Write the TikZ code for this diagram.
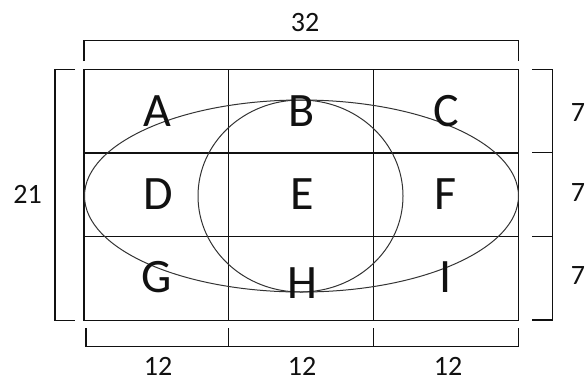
\documentclass[tikz,border=0pt]{standalone}
\usepackage{fontspec}
\setmainfont{Carlito}
\usepackage{tikz}
\usetikzlibrary{calc,positioning}
\definecolor{inkx}{HTML}{111111}
\definecolor{curvex}{HTML}{333333}
\tikzset{
  gridln/.style={line width=1.1pt,inkx},
  bracketln/.style={line width=1.1pt,inkx},
  curveln/.style={line width=1pt,curvex},
  cell/.style={font=\fontsize{48}{48}\selectfont,inner sep=0pt,text=inkx},
  dimlbl/.style={font=\fontsize{28}{28}\selectfont,inner sep=0pt,text=inkx}
}
\begin{document}
\begin{tikzpicture}[x=1pt,y=-1pt]
\useasboundingbox (0,0) rectangle (585,381);
\coordinate (NW) at (84,69.5); \coordinate (SE) at (518.5,320.5);
\draw[gridln] (NW) rectangle (SE);
\draw[gridln] (228.8,69.5)--(228.8,320.5) (373.2,69.5)--(373.2,320.5);
\draw[gridln] (84,153)--(518.5,153) (84,236.5)--(518.5,236.5);
\draw[curveln] (301.5,196) ellipse [x radius=217, y radius=96];
\draw[curveln] (300.5,196) ellipse [x radius=102.5, y radius=96];
\node[cell] (A) at (157,111) {A};
\node[cell] (B) at (302,111) {B};
\node[cell] (C) at (446,111) {C};
\node[cell] (D) at (158,194) {D};
\node[cell] (E) at (302.5,194) {E};
\node[cell] (F) at (446,194) {F};
\node[cell] (G) at (157,277) {G};
\node[cell] (H) at (302,283) {H};
\node[cell] (I) at (446,277) {I};
% dimensions
\draw[bracketln] (84,61)--(84,40.3)--(518.5,40.3)--(518.5,61);
\node[dimlbl] (top) at (305,22.5) {32};
\draw[bracketln] (75,69.5)--(55,69.5)--(55,320.5)--(75,320.5);
\node[dimlbl] (left) at (27.5,194) {21};
\draw[bracketln] (532.3,69.5)--(552.7,69.5)--(552.7,320)--(532.3,320);
\draw[bracketln] (532.3,152.7)--(552.7,152.7) (532.3,236.7)--(552.7,236.7);
\node[dimlbl] (r1) at (578,112.5) {7};
\node[dimlbl] (r2) at (578,193) {7};
\node[dimlbl] (r3) at (578,276) {7};
\draw[bracketln] (86,328)--(86,346.7)--(518.5,346.7)--(518.5,328);
\draw[bracketln] (228.8,328)--(228.8,346.7) (373.2,328)--(373.2,346.7);
\node[dimlbl] (b1) at (158,366) {12};
\node[dimlbl] (b2) at (302,366) {12};
\node[dimlbl] (b3) at (448,366) {12};
\end{tikzpicture}
\end{document}
